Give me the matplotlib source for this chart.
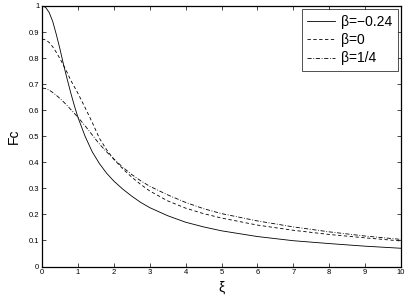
import numpy as np
import matplotlib.pyplot as plt

# values
xi = [0, 0.1, 0.2, 0.3, 0.4, 0.5, 0.6, 0.7, 0.8, 0.9, 1.0, 1.2, 1.4, 1.6, 1.8, 2.0,
      2.25, 2.5, 2.75, 3, 3.5, 4, 4.5, 5, 6, 7, 8, 9, 10]
fc_neg = [1.0, 0.995, 0.975, 0.94, 0.89, 0.835, 0.775, 0.72, 0.667, 0.618, 0.573,
          0.5, 0.44, 0.395, 0.358, 0.328, 0.297, 0.27, 0.246, 0.226, 0.195, 0.17,
          0.152, 0.137, 0.115, 0.099, 0.088, 0.078, 0.07]
fc_zero = [0.873, 0.87, 0.86, 0.843, 0.822, 0.798, 0.772, 0.745, 0.715, 0.69, 0.665,
           0.61, 0.553, 0.492, 0.448, 0.412, 0.375, 0.343, 0.315, 0.29, 0.252, 0.224,
           0.203, 0.186, 0.159, 0.139, 0.123, 0.11, 0.098]
fc_quarter = [0.685, 0.683, 0.677, 0.668, 0.657, 0.645, 0.632, 0.618, 0.603, 0.588,
              0.573, 0.54, 0.505, 0.47, 0.44, 0.413, 0.381, 0.353, 0.329, 0.308, 0.275,
              0.246, 0.222, 0.203, 0.175, 0.152, 0.133, 0.117, 0.104]
labels = ['β=−0.24', 'β=0', 'β=1/4']

plt.rcParams['font.family'] = ['Liberation Sans', 'DejaVu Sans']

fig = plt.figure(figsize=(4.09, 3.0), dpi=100)
ax = fig.add_axes([42 / 409, 1 - 266.5 / 300, 359 / 409, 260.5 / 300])

ax.plot(xi, fc_neg, color='black', lw=0.6, ls='-', label=labels[0])
ax.plot(xi, fc_zero, color='black', lw=0.6, ls=(0, (4, 3)), label=labels[1])
ax.plot(xi, fc_quarter, color='black', lw=0.6, ls=(0, (5, 2, 1, 2)), label=labels[2])

ax.set_xlim(0, 10)
ax.set_ylim(0, 1)
ax.set_xticks(np.arange(0, 11, 1))
ax.set_yticks(np.arange(0, 1.01, 0.1))
ax.set_xticklabels([str(i) for i in range(11)])
ax.set_yticklabels(['0'] + ['%.1f' % v for v in np.arange(0.1, 0.95, 0.1)] + ['1'])
ax.tick_params(direction='in', length=3, width=0.5, labelsize=5.5,
               top=True, right=True, pad=2)
for s in ax.spines.values():
    s.set_linewidth(0.9)

ax.set_xlabel('ξ', fontsize=10, labelpad=3)
ax.set_ylabel('Fc', fontsize=10, labelpad=6)

leg = ax.legend(loc='upper right', fontsize=10, frameon=True, fancybox=False,
                edgecolor='black', handlelength=2.0, handletextpad=0.4,
                borderaxespad=0.25, labelspacing=0.3, borderpad=0.4)
leg.get_frame().set_linewidth(0.6)

fig.savefig('out.png', dpi=100)
